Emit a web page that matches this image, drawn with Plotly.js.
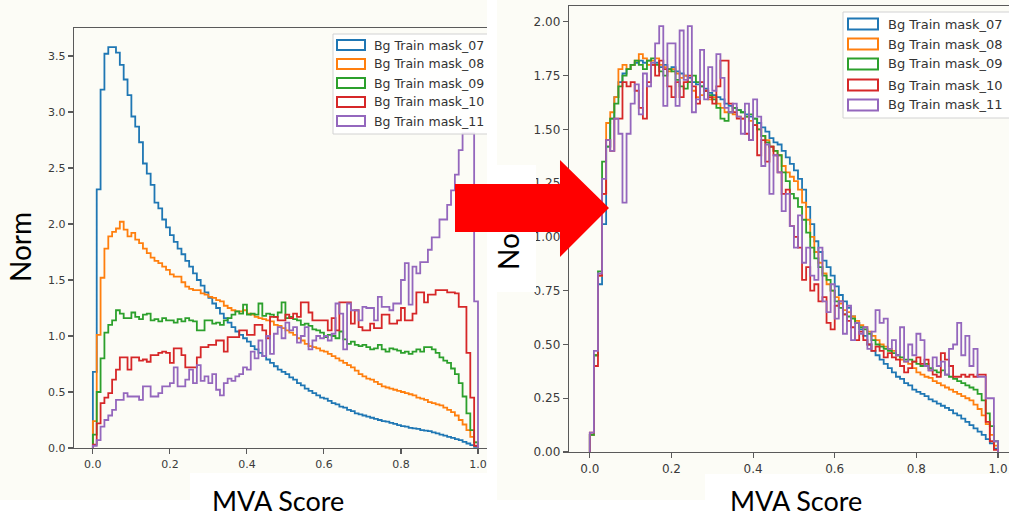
<!DOCTYPE html>
<html>
<head>
<meta charset="utf-8">
<script src="https://cdn.plot.ly/plotly-3.0.1.min.js"></script>
<style>html,body{margin:0;padding:0;background:#fff;}#chart{width:1009px;height:517px;}</style>
</head>
<body>
<div id="chart"></div>
<script>
// ---------------- data ----------------
const seriesLabels = ["Bg Train mask_07", "Bg Train mask_08", "Bg Train mask_09", "Bg Train mask_10", "Bg Train mask_11"];
const seriesColors = ["#1f77b4", "#ff7f0e", "#2ca02c", "#d62728", "#9467bd"];
const NBINS = 100; // bins over the MVA score range [0, 1]
const xTickVals = [0, 0.2, 0.4, 0.6, 0.8, 1.0];
const leftYTicks = [0, 0.5, 1.0, 1.5, 2.0, 2.5, 3.0, 3.5];
const rightYTicks = [0, 0.25, 0.5, 0.75, 1.0, 1.25, 1.5, 1.75, 2.0];
const axisTitleX = "MVA Score";
const axisTitleY = "Norm";

// Left panel (before)
const left07 = [0.68,2.31,3.20,3.52,3.58,3.58,3.53,3.42,3.29,3.15,
2.96,2.87,2.73,2.54,2.45,2.35,2.19,2.14,2.04,1.97,
1.90,1.84,1.78,1.73,1.67,1.62,1.56,1.50,1.45,1.39,
1.34,1.29,1.25,1.20,1.16,1.12,1.08,1.04,1.01,0.98,
0.95,0.91,0.88,0.85,0.82,0.79,0.76,0.73,0.70,0.68,
0.66,0.63,0.61,0.58,0.56,0.53,0.51,0.49,0.47,0.45,
0.44,0.42,0.40,0.39,0.37,0.36,0.34,0.33,0.31,0.30,
0.29,0.28,0.27,0.26,0.25,0.24,0.235,0.225,0.215,0.205,
0.195,0.19,0.18,0.175,0.17,0.16,0.155,0.15,0.14,0.13,
0.12,0.11,0.10,0.09,0.08,0.07,0.055,0.04,0.025,0.01];
const left08 = [0.24,1.01,1.52,1.78,1.89,1.93,1.96,2.02,1.95,1.89,
1.92,1.86,1.83,1.78,1.74,1.70,1.67,1.65,1.62,1.59,
1.55,1.53,1.53,1.48,1.44,1.42,1.41,1.41,1.38,1.37,
1.35,1.34,1.32,1.31,1.27,1.25,1.23,1.22,1.22,1.23,
1.20,1.19,1.17,1.16,1.15,1.14,1.13,1.10,1.09,1.07,
1.05,1.03,1.01,0.98,0.96,0.93,0.91,0.90,0.89,0.87,
0.86,0.84,0.82,0.80,0.78,0.76,0.74,0.72,0.69,0.66,
0.64,0.62,0.61,0.59,0.57,0.55,0.54,0.53,0.52,0.51,
0.50,0.49,0.48,0.47,0.45,0.44,0.43,0.41,0.40,0.39,
0.38,0.36,0.34,0.32,0.29,0.25,0.21,0.16,0.10,0.05];
const left09 = [0.12,0.50,0.80,1.03,1.10,1.14,1.23,1.20,1.16,1.16,
1.21,1.17,1.15,1.19,1.20,1.14,1.15,1.13,1.16,1.14,
1.14,1.12,1.15,1.13,1.16,1.14,1.13,1.05,1.05,1.14,
1.14,1.11,1.12,1.10,1.14,1.16,1.19,1.22,1.20,1.28,
1.19,1.20,1.19,1.29,1.18,1.20,1.19,1.17,1.21,1.30,
1.16,1.17,1.15,1.14,1.10,1.11,1.09,1.06,1.05,1.03,
0.99,1.01,1.00,0.98,1.04,0.97,0.93,0.95,0.92,0.91,
0.92,0.90,0.88,0.89,0.92,0.88,0.86,0.89,0.88,0.87,
0.85,0.86,0.84,0.86,0.88,0.86,0.90,0.90,0.88,0.85,
0.81,0.78,0.76,0.71,0.66,0.58,0.46,0.31,0.16,0.05];
const left10 = [0.03,0.22,0.40,0.45,0.49,0.61,0.70,0.81,0.81,0.70,
0.81,0.81,0.78,0.79,0.77,0.83,0.83,0.85,0.86,0.85,
0.76,0.89,0.89,0.83,0.72,0.72,0.72,0.81,0.90,0.90,
0.92,0.92,0.96,0.96,0.86,0.99,0.99,0.99,1.05,1.05,
1.01,1.01,1.10,1.10,1.05,0.98,1.17,1.17,1.14,1.14,
1.19,1.16,1.20,1.17,1.30,1.30,1.21,1.14,1.14,1.14,
1.14,1.05,1.16,1.05,1.30,1.30,1.30,1.11,1.23,1.08,
1.05,1.05,1.11,1.07,1.07,1.19,1.19,1.11,1.11,1.14,
1.25,1.14,1.14,1.20,1.39,1.39,1.30,1.37,1.37,1.41,
1.41,1.41,1.39,1.39,1.38,1.26,1.26,0.85,0.45,0.02];
const left11 = [0.02,0.07,0.19,0.25,0.29,0.34,0.43,0.43,0.49,0.46,
0.46,0.46,0.43,0.55,0.55,0.46,0.46,0.49,0.55,0.55,
0.58,0.72,0.55,0.55,0.61,0.70,0.58,0.74,0.60,0.64,
0.58,0.66,0.52,0.47,0.58,0.62,0.60,0.64,0.66,0.72,
0.70,0.86,0.80,0.96,0.82,1.00,0.84,1.02,1.08,0.98,
1.12,1.05,1.08,0.94,1.00,1.08,0.88,0.96,1.00,0.98,
1.00,0.96,1.02,1.29,1.20,0.88,1.29,1.23,1.23,1.14,
1.26,1.25,1.25,1.14,1.35,1.26,1.26,1.23,1.29,1.29,
1.50,1.65,1.28,1.62,1.56,1.66,1.66,1.77,1.88,1.88,
2.04,2.04,2.17,2.30,2.44,2.66,2.81,2.81,2.81,1.31];

// Right panel (after)
const right07 = [0.08,0.45,0.78,1.06,1.42,1.55,1.65,1.72,1.76,1.78,
1.80,1.81,1.82,1.81,1.82,1.80,1.81,1.79,1.80,1.78,
1.79,1.77,1.76,1.75,1.74,1.72,1.71,1.70,1.69,1.67,
1.66,1.65,1.64,1.62,1.61,1.60,1.59,1.58,1.57,1.56,
1.55,1.53,1.51,1.49,1.46,1.44,1.43,1.40,1.37,1.34,
1.31,1.27,1.22,1.14,1.06,0.98,0.93,0.89,0.86,0.82,
0.77,0.73,0.70,0.67,0.63,0.60,0.57,0.54,0.50,0.47,
0.45,0.43,0.41,0.39,0.37,0.35,0.34,0.32,0.31,0.29,
0.28,0.27,0.26,0.245,0.235,0.225,0.215,0.205,0.195,0.18,
0.17,0.155,0.14,0.125,0.11,0.095,0.08,0.06,0.04,0.015];
const right08 = [0.08,0.45,0.82,1.20,1.53,1.58,1.65,1.78,1.80,1.78,
1.80,1.82,1.85,1.83,1.80,1.82,1.83,1.80,1.79,1.77,
1.78,1.76,1.74,1.75,1.72,1.68,1.65,1.66,1.68,1.64,
1.65,1.62,1.60,1.58,1.58,1.57,1.56,1.55,1.56,1.54,
1.52,1.50,1.47,1.45,1.42,1.40,1.38,1.33,1.30,1.28,
1.26,1.22,1.16,1.08,1.00,0.93,0.88,0.83,0.78,0.75,
0.72,0.69,0.66,0.65,0.63,0.61,0.59,0.58,0.56,0.54,
0.52,0.50,0.49,0.48,0.47,0.45,0.43,0.42,0.41,0.39,
0.37,0.36,0.35,0.345,0.33,0.32,0.31,0.30,0.29,0.28,
0.27,0.26,0.25,0.24,0.22,0.20,0.17,0.13,0.08,0.03];
const right09 = [0.08,0.45,0.84,1.35,1.42,1.55,1.62,1.70,1.75,1.78,
1.80,1.82,1.80,1.78,1.82,1.83,1.80,1.77,1.75,1.78,
1.77,1.73,1.70,1.69,1.72,1.75,1.72,1.70,1.68,1.66,
1.64,1.60,1.55,1.54,1.58,1.60,1.59,1.58,1.56,1.57,
1.55,1.50,1.47,1.44,1.42,1.40,1.38,1.30,1.26,1.20,
1.18,1.14,1.08,1.02,0.95,0.90,0.86,0.82,0.80,0.75,
0.70,0.67,0.64,0.63,0.62,0.60,0.58,0.57,0.55,0.52,
0.50,0.49,0.48,0.47,0.46,0.45,0.44,0.43,0.43,0.42,
0.41,0.40,0.41,0.39,0.38,0.37,0.38,0.36,0.35,0.34,
0.33,0.32,0.31,0.30,0.29,0.27,0.24,0.18,0.12,0.05];
const right10 = [0.09,0.40,0.82,1.20,1.45,1.40,1.55,1.55,1.72,1.70,
1.72,1.68,1.60,1.55,1.72,1.80,1.75,1.82,1.78,1.70,
1.65,1.72,1.65,1.72,1.75,1.70,1.62,1.72,1.68,1.65,
1.62,1.70,1.82,1.82,1.62,1.58,1.55,1.55,1.48,1.45,
1.52,1.38,1.45,1.35,1.42,1.38,1.30,1.20,1.22,1.05,
1.00,0.95,0.80,0.86,0.75,0.78,0.70,0.72,0.60,0.57,
0.68,0.70,0.64,0.61,0.58,0.52,0.56,0.52,0.50,0.47,
0.49,0.47,0.44,0.46,0.44,0.43,0.40,0.37,0.39,0.42,
0.44,0.41,0.43,0.38,0.36,0.35,0.46,0.43,0.40,0.35,
0.35,0.36,0.35,0.36,0.35,0.36,0.36,0.14,0.05,0.01];
const right11 = [0.09,0.47,0.83,1.27,1.45,1.40,1.55,1.48,1.16,1.48,
1.62,1.71,1.57,1.76,1.70,1.81,1.90,1.98,1.61,1.90,
1.90,1.61,1.96,1.73,1.98,1.58,1.64,1.87,1.64,1.79,
1.68,1.85,1.74,1.60,1.58,1.62,1.56,1.48,1.62,1.45,
1.64,1.56,1.33,1.43,1.20,1.38,1.30,1.12,1.20,1.05,
0.95,1.10,0.88,0.95,0.82,0.80,0.95,0.70,0.65,0.78,
0.62,0.70,0.55,0.68,0.52,0.60,0.55,0.58,0.48,0.56,
0.66,0.60,0.62,0.48,0.52,0.45,0.58,0.42,0.50,0.45,
0.55,0.52,0.40,0.38,0.44,0.40,0.42,0.36,0.48,0.50,
0.60,0.45,0.54,0.40,0.48,0.35,0.35,0.25,0.25,0.05];

const leftSeries = [left07, left08, left09, left10, left11];
const rightSeries = [right07, right08, right09, right10, right11];

// ---------------- helpers ----------------
const W = 1009, H = 517;
const fx = p => p / W;          // pixel x -> paper fraction
const fy = p => 1 - p / H;      // pixel y -> paper fraction

function stepTrace(values, color, xa, ya, width) {
  const xs = [0], ys = [0];
  values.forEach((v, i) => { xs.push(i / NBINS); ys.push(v); });
  xs.push(1); ys.push(0);
  return {
    type: "scatter", mode: "lines", x: xs, y: ys, xaxis: xa, yaxis: ya,
    line: { shape: "hv", color: color, width: width },
    showlegend: false, hoverinfo: "skip"
  };
}

const traces = [];
leftSeries.forEach((s, i) => traces.push(stepTrace(s, seriesColors[i], "x", "y", 1.8)));
rightSeries.forEach((s, i) => traces.push(stepTrace(s, seriesColors[i], "x2", "y2", 1.8)));

const axisCommon = {
  showline: true, linecolor: "#5a5a5a", linewidth: 1.3,
  ticks: "outside", ticklen: 5, tickwidth: 1.1, tickcolor: "#5a5a5a",
  showgrid: false, zeroline: false, fixedrange: true
};

const shapes = [];
function rectPx(x0, y0, x1, y1, opts) {
  shapes.push(Object.assign({
    type: "rect", xref: "paper", yref: "paper",
    x0: fx(x0), x1: fx(x1), y0: fy(y1), y1: fy(y0)
  }, opts));
}
// page background pieces (two pasted figure images, white text boxes)
rectPx(0, 0, 487, 500, { layer: "below", fillcolor: "#fcfcf6", line: { width: 0 } });
rectPx(497, 0, 1009, 500, { layer: "below", fillcolor: "#fcfcf6", line: { width: 0 } });
rectPx(190, 473, 487, 517, { layer: "below", fillcolor: "#ffffff", line: { width: 0 } });
rectPx(705, 474, 1009, 517, { layer: "below", fillcolor: "#ffffff", line: { width: 0 } });

// legend frames
rectPx(333, 34, 493, 134, { layer: "above", fillcolor: "rgba(255,255,255,0.85)", line: { color: "#d2d2d2", width: 1 } });
rectPx(843, 12, 1015, 118, { layer: "above", fillcolor: "rgba(255,255,255,0.85)", line: { color: "#d2d2d2", width: 1 } });

const annotations = [];
const leftLegY = [45, 64, 83, 102, 121];
const rightLegY = [24, 44, 64, 85, 105];
seriesLabels.forEach((lab, i) => {
  rectPx(337, leftLegY[i] - 5, 365, leftLegY[i] + 5, { layer: "above", fillcolor: "rgba(0,0,0,0)", line: { color: seriesColors[i], width: 2 } });
  rectPx(848, rightLegY[i] - 5.5, 878, rightLegY[i] + 5.5, { layer: "above", fillcolor: "rgba(0,0,0,0)", line: { color: seriesColors[i], width: 2 } });
  annotations.push({ xref: "paper", yref: "paper", x: fx(372), y: fy(leftLegY[i]), xanchor: "left", yanchor: "middle",
    text: lab, showarrow: false, font: { family: "DejaVu Sans", size: 12.5, color: "#333" } });
  annotations.push({ xref: "paper", yref: "paper", x: fx(886), y: fy(rightLegY[i]), xanchor: "left", yanchor: "middle",
    text: lab, showarrow: false, font: { family: "DejaVu Sans", size: 13, color: "#333" } });
});

// white gap between the two pictures and the right-hand y-title text box
rectPx(487, 0, 497, 517, { layer: "above", fillcolor: "#ffffff", line: { width: 0 } });
rectPx(497, 165, 536, 292, { layer: "above", fillcolor: "#ffffff", line: { width: 0 } });
// right-hand y title, drawn as a shape label so the arrow can cover it
rectPx(496, 199, 520, 271, { layer: "above", fillcolor: "rgba(0,0,0,0)", line: { width: 0 },
  label: { text: axisTitleY, textangle: -90, textposition: "middle center",
           font: { family: "Lato", size: 28, color: "#000" } } });
// red arrow
const arrowPts = [[455,184],[560,184],[560,160],[609,208],[560,257],[560,232],[455,232]];
shapes.push({ type: "path", xref: "paper", yref: "paper", layer: "above",
  path: "M" + arrowPts.map(p => fx(p[0]).toFixed(5) + "," + fy(p[1]).toFixed(5)).join(" L") + " Z",
  fillcolor: "#ff0000", line: { width: 0 } });

// axis titles
annotations.push({ xref: "paper", yref: "paper", x: fx(20), y: fy(247), xanchor: "center", yanchor: "middle",
  textangle: -90, showarrow: false, text: axisTitleY, font: { family: "Lato", size: 28, color: "#000" } });
annotations.push({ xref: "paper", yref: "paper", x: fx(278), y: fy(500), xanchor: "center", yanchor: "middle",
  showarrow: false, text: axisTitleX, font: { family: "Lato", size: 27, color: "#000" } });
annotations.push({ xref: "paper", yref: "paper", x: fx(796), y: fy(500.5), xanchor: "center", yanchor: "middle",
  showarrow: false, text: axisTitleX, font: { family: "Lato", size: 27, color: "#000" } });

const tickFontL = { family: "DejaVu Sans", size: 11, color: "#3a3a3a" };
const tickFontR = { family: "DejaVu Sans", size: 12, color: "#3a3a3a" };

const layout = {
  width: W, height: H,
  margin: { l: 0, r: 0, t: 0, b: 0, pad: 0 },
  paper_bgcolor: "#ffffff", plot_bgcolor: "rgba(0,0,0,0)",
  showlegend: false,
  xaxis: Object.assign({}, axisCommon, { domain: [fx(74), fx(487)], range: [-0.049, 1.0234], anchor: "y", mirror: true,
    tickvals: xTickVals, tickformat: ".1f", tickfont: tickFontL }),
  yaxis: Object.assign({}, axisCommon, { domain: [fy(448), fy(28)], range: [0, 3.75], anchor: "x",
    tickvals: leftYTicks, tickformat: ".1f", tickfont: tickFontL }),
  xaxis2: Object.assign({}, axisCommon, { domain: [fx(569), 1], range: [-0.051, 1.027], anchor: "y2", mirror: true,
    tickvals: xTickVals, tickformat: ".1f", tickfont: tickFontR }),
  yaxis2: Object.assign({}, axisCommon, { domain: [fy(452), fy(6)], range: [0, 2.074], anchor: "x2",
    tickvals: rightYTicks, tickformat: ".2f", tickfont: tickFontR }),
  shapes: shapes,
  annotations: annotations
};

Plotly.newPlot("chart", traces, layout, { displayModeBar: false, staticPlot: true });
</script>
</body>
</html>
